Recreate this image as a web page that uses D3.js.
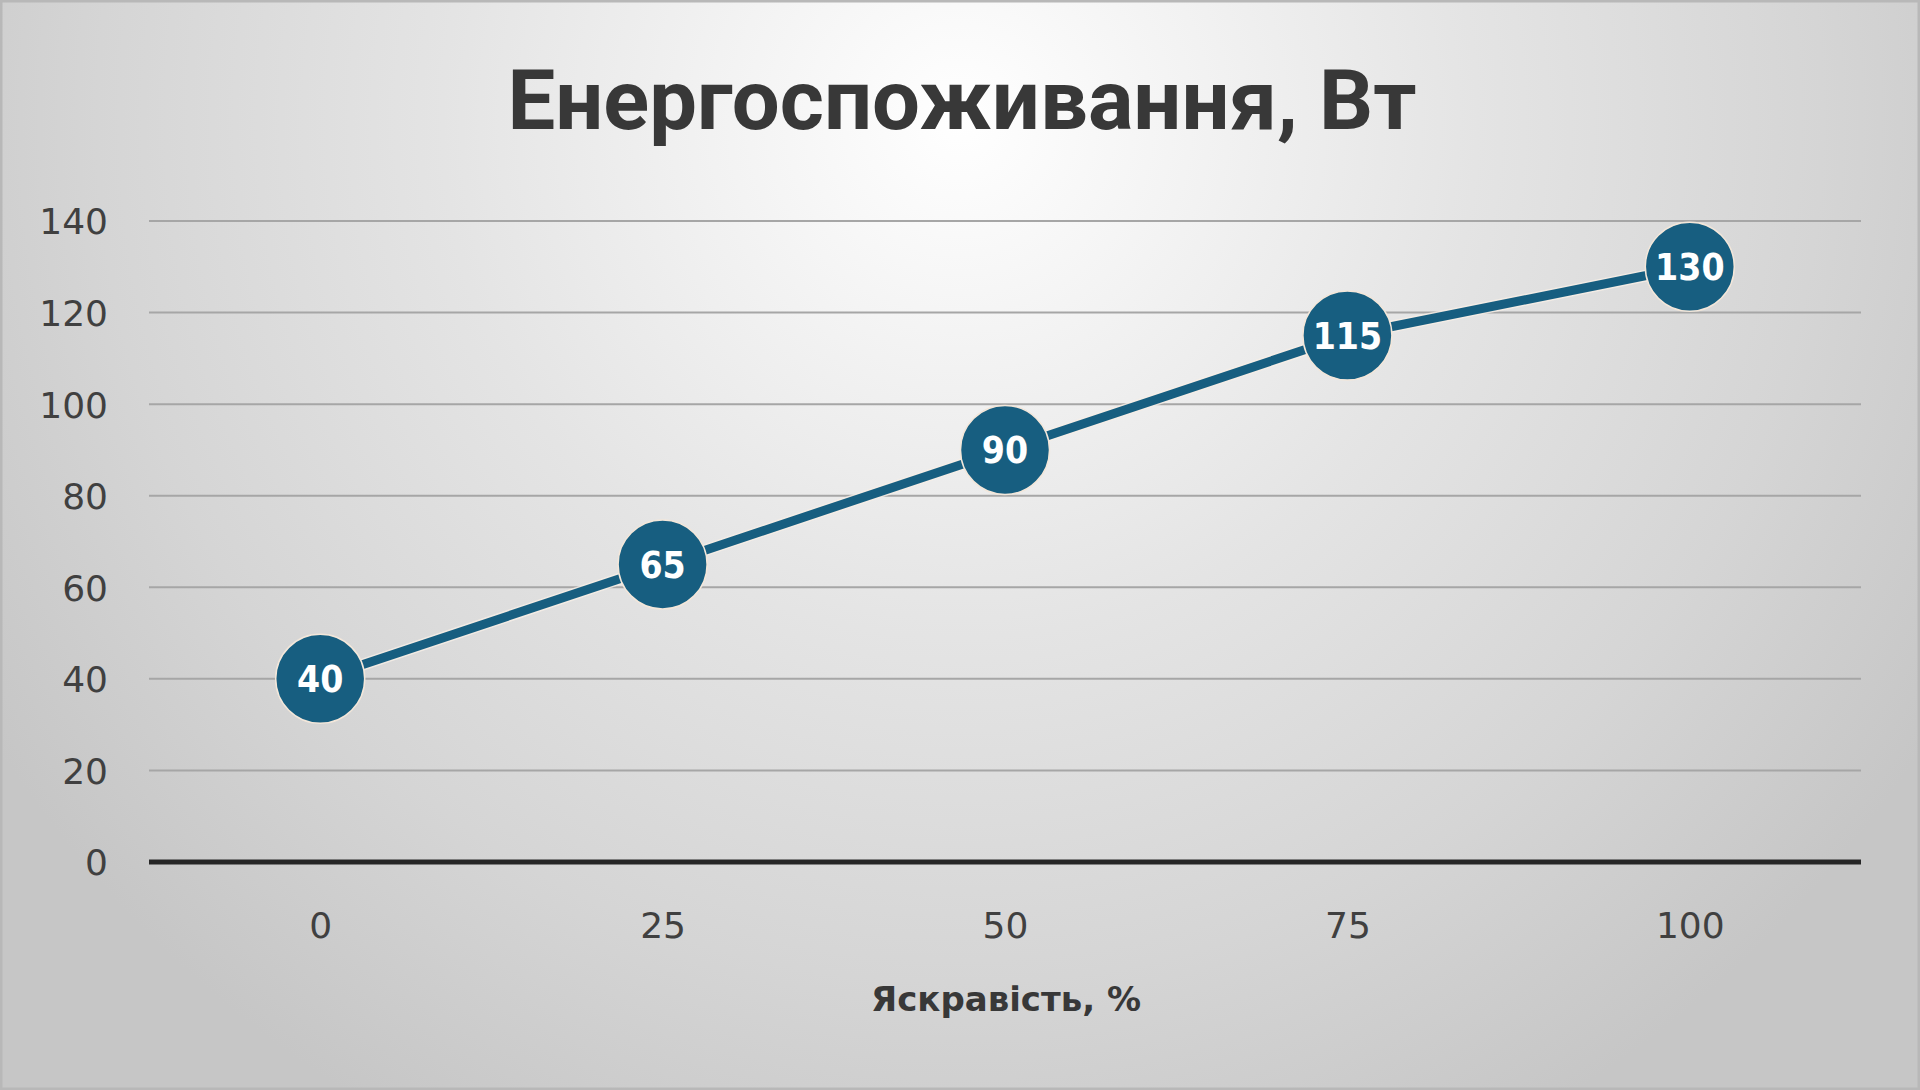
<!DOCTYPE html>
<html>
<head>
<meta charset="utf-8">
<script src="https://cdn.jsdelivr.net/npm/d3@7"></script>
<style>
  html, body { margin: 0; padding: 0; background: #fff; }
  svg { display: block; }
</style>
</head>
<body>
<svg id="chart" width="1920" height="1090"></svg>
<script>
const categories = ["0", "25", "50", "75", "100"];
const values = [40, 65, 90, 115, 130];
const yTicks = [0, 20, 40, 60, 80, 100, 120, 140];
const titleText = "Енергоспоживання, Вт";
const xTitleText = "Яскравість, %";

const W = 1920, H = 1090;
const plot = { left: 149, right: 1861, top: 221, bottom: 862 };

const svg = d3.select("#chart");
const defs = svg.append("defs");
const grad = defs.append("radialGradient")
  .attr("id", "bg").attr("gradientUnits", "userSpaceOnUse")
  .attr("cx", 960).attr("cy", 120).attr("r", 1150);
grad.append("stop").attr("offset", "0").attr("stop-color", "#ffffff");
grad.append("stop").attr("offset", "0.15").attr("stop-color", "#f6f6f6");
grad.append("stop").attr("offset", "0.45").attr("stop-color", "#e4e4e4");
grad.append("stop").attr("offset", "0.75").attr("stop-color", "#d5d5d5");
grad.append("stop").attr("offset", "1").attr("stop-color", "#c6c6c6");

svg.append("rect").attr("width", W).attr("height", H).attr("fill", "url(#bg)");
svg.append("rect").attr("x", 1).attr("y", 1).attr("width", W - 2).attr("height", H - 2)
  .attr("fill", "none").attr("stroke", "#b8b8b8").attr("stroke-width", 3);

const x = d3.scalePoint().domain(categories).range([plot.left, plot.right]).padding(0.5);
const y = d3.scaleLinear().domain([0, 140]).range([plot.bottom, plot.top]);

// gridlines
svg.append("g").selectAll("line").data(yTicks.filter(d => d > 0)).join("line")
  .attr("x1", plot.left).attr("x2", plot.right)
  .attr("y1", d => y(d)).attr("y2", d => y(d))
  .attr("stroke", "#a6a6a6").attr("stroke-width", 2);

// y axis labels
const yAxis = d3.axisLeft(y).tickValues(yTicks).tickSize(0).tickPadding(0).tickFormat(d3.format("d"));
const yg = svg.append("g").attr("transform", `translate(108,0)`).call(yAxis);
yg.select(".domain").remove();
yg.selectAll("text").attr("font-family", "DejaVu Sans").attr("font-size", 36)
  .attr("fill", "#404040").attr("dy", "0.36em");

// x axis baseline
svg.append("line").attr("x1", plot.left).attr("x2", plot.right)
  .attr("y1", y(0)).attr("y2", y(0)).attr("stroke", "#262626").attr("stroke-width", 5);

const xAxis = d3.axisBottom(x).tickSize(0).tickPadding(0);
const xg = svg.append("g").attr("transform", `translate(0,${y(0)})`).call(xAxis);
xg.select(".domain").remove();
xg.selectAll("text").attr("font-family", "DejaVu Sans").attr("font-size", 36)
  .attr("fill", "#404040").attr("y", 76).attr("dy", 0);

// title
svg.append("text").attr("x", 962).attr("y", 129).attr("text-anchor", "middle")
  .attr("font-family", "Roboto").attr("font-weight", 700).attr("font-size", 83)
  .attr("fill", "#383838").attr("textLength", 909).attr("lengthAdjust", "spacingAndGlyphs")
  .text(titleText);

// x title
svg.append("text").attr("x", 1006).attr("y", 1011).attr("text-anchor", "middle")
  .attr("font-family", "DejaVu Sans").attr("font-weight", 700).attr("font-size", 34)
  .attr("fill", "#383838").text(xTitleText);

// line
const data = categories.map((c, i) => ({ c, v: values[i] }));
const lineGen = d3.line().x(d => x(d.c)).y(d => y(d.v));
svg.append("path").datum(data).attr("d", lineGen)
  .attr("fill", "none").attr("stroke", "#f7efe6").attr("stroke-width", 12)
  .attr("stroke-linejoin", "round").attr("opacity", 0.8);
svg.append("path").datum(data).attr("d", lineGen)
  .attr("fill", "none").attr("stroke", "#175e80").attr("stroke-width", 9)
  .attr("stroke-linejoin", "round");

// markers
const m = svg.append("g").selectAll("g").data(data).join("g")
  .attr("transform", d => `translate(${x(d.c)},${y(d.v)})`);
m.append("circle").attr("r", 44.5).attr("fill", "#175e80")
  .attr("stroke", "#f3e7da").attr("stroke-width", 1.5);
m.append("text").attr("text-anchor", "middle").attr("dy", "0.36em")
  .attr("font-family", "DejaVu Sans Condensed, DejaVu Sans").attr("font-stretch", "condensed")
  .attr("font-weight", 700).attr("font-size", 37)
  .attr("fill", "#ffffff").text(d => d.v);
</script>
</body>
</html>
